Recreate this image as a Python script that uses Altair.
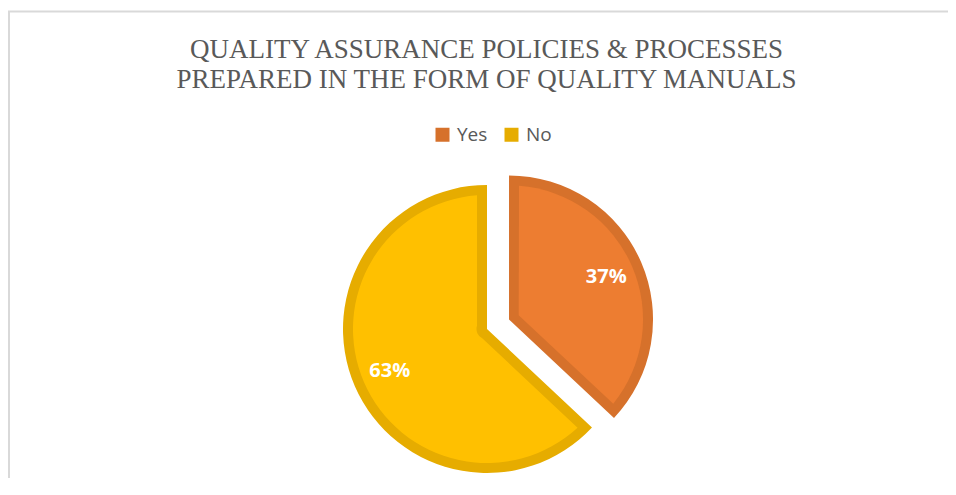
import math
import altair as alt
import pandas as pd

# ---- data ----
categories = ["Yes", "No"]
values = [37, 63]
fill_colors = ["#ED7D31", "#FFC000"]
border_colors = ["#D6712B", "#E6AC00"]
title_lines = [
    "QUALITY ASSURANCE POLICIES & PROCESSES",
    "PREPARED IN THE FORM OF QUALITY MANUALS",
]

df = pd.DataFrame({
    "category": categories,
    "value": values,
    "order": list(range(len(categories))),
    "fill": fill_colors,
})
title_df = pd.DataFrame({"line": title_lines, "row": list(range(len(title_lines)))})

# ---- layout / style ----
W, H = 940, 470
CX, CY = 479, 321      # pie centre
R = 144                # outer radius
BORDER = 10            # width of slice border (drawn inside)
EXPLODE = 24           # explosion of the "Yes" slice
LABEL_R = 106
R_IN = R - BORDER
R0 = 10.5
PAD = 2 * math.asin(BORDER / math.sqrt(R_IN ** 2 + R0 ** 2))

base = (
    alt.Chart(df)
    .transform_joinaggregate(total="sum(value)")
    .transform_window(cum="sum(value)", sort=[alt.SortField("order")], frame=[None, 0])
    .transform_calculate(t0="(datum.cum - datum.value) / datum.total * 2 * PI")
    .transform_calculate(t1="datum.cum / datum.total * 2 * PI")
    .transform_calculate(tm="(datum.t0 + datum.t1) / 2")
    .transform_calculate(pct="format(datum.value / datum.total, '.0%')")
    .transform_calculate(ex=f"datum.category == 'Yes' ? {EXPLODE} : 0")
    .transform_calculate(cx=f"{CX} + datum.ex * sin(datum.tm)")
    .transform_calculate(cy=f"{CY} - datum.ex * cos(datum.tm)")
)

pos = dict(
    x=alt.X("cx:Q", scale=None, axis=None),
    y=alt.Y("cy:Q", scale=None, axis=None),
)

outer = base.mark_arc(radius=R, radius2=0).encode(
    theta=alt.Theta("t0:Q", scale=None),
    theta2="t1:Q",
    color=alt.Color(
        "category:N",
        sort=categories,
        scale=alt.Scale(domain=categories, range=border_colors),
        legend=alt.Legend(
            title=None,
            orient="none",
            legendX=425,
            legendY=117,
            direction="horizontal",
            symbolType="square",
            symbolSize=196,
            symbolStrokeWidth=0,
            symbolOpacity=1,
            labelFont="Open Sans",
            labelFontSize=19,
            labelColor="#595959",
            labelOffset=5,
            columnPadding=14,
            padding=0,
        ),
    ),
    **pos,
)

inner = base.mark_arc(radius=R_IN, radius2=R0, padAngle=PAD).encode(
    theta=alt.Theta("t0:Q", scale=None),
    theta2="t1:Q",
    fill=alt.Fill("fill:N", scale=None, legend=None),
    **pos,
)

labels = base.mark_text(
    font="Open Sans", fontSize=20, fontWeight="bold", color="white"
).encode(
    theta=alt.Theta("tm:Q", scale=None),
    radius=alt.value(LABEL_R),
    text="pct:N",
    **pos,
)

title = (
    alt.Chart(title_df)
    .transform_calculate(ty="49.5 + datum.row * 30")
    .mark_text(font="Liberation Serif", fontSize=27, color="#595959", baseline="alphabetic", align="center")
    .encode(
        x=alt.value(478.5),
        y=alt.Y("ty:Q", scale=None, axis=None),
        text="line:N",
    )
)

frame_data = alt.Data(values=[{}])
frame_top = alt.Chart(frame_data).mark_rule(color="#D9D9D9", strokeWidth=2).encode(
    x=alt.value(0), x2=alt.value(W), y=alt.value(3.5)
)
frame_left = alt.Chart(frame_data).mark_rule(color="#D9D9D9", strokeWidth=2).encode(
    x=alt.value(1), y=alt.value(3.5), y2=alt.value(H)
)

chart = (
    alt.layer(frame_top, frame_left, outer, inner, labels, title)
    .properties(width=W, height=H, autosize=alt.AutoSizeParams(type="none"), padding=0)
    .configure_view(stroke=None)
)

chart.save("out.html", embed_options={"renderer": "svg", "actions": False})
